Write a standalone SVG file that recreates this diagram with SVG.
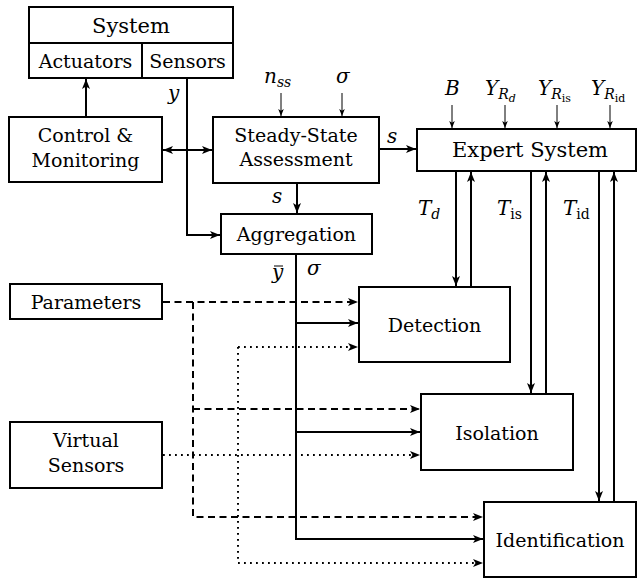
<svg xmlns="http://www.w3.org/2000/svg" width="639" height="578" viewBox="0 0 639 578" font-family="DejaVu Serif, serif">
<defs>
<marker id="ah" viewBox="0 0 10 8" refX="10" refY="4" markerWidth="10" markerHeight="8" markerUnits="userSpaceOnUse" orient="auto-start-reverse">
<path d="M0,0 L10,4 L0,8 L2.5,4 z" fill="#000"/>
</marker>
<marker id="ahs" viewBox="0 0 10 8" refX="10" refY="4" markerWidth="7" markerHeight="6" markerUnits="userSpaceOnUse" orient="auto">
<path d="M0,0 L10,4 L0,8 L2.5,4 z" fill="#000"/>
</marker>
</defs>
<style>
.box{fill:#fff;stroke:#000;stroke-width:2}
.t{font-size:19px;text-anchor:middle;fill:#000}
.tb{font-size:21px;text-anchor:middle;fill:#000}
.m{font-size:20px;font-style:italic;fill:#000}
.sub{font-size:14px}
.ss{font-size:11px}
.up{font-style:normal}
.ln{fill:none;stroke:#000;stroke-width:2}
.th{fill:none;stroke:#000;stroke-width:1}
.da{stroke-dasharray:7 4.5}
.do{stroke-dasharray:1.8 4.2}
</style>
<g id="connectors">
<path class="ln" d="M86,117 V79" marker-end="url(#ah)"/>
<path class="ln" d="M187,78 V235 H220" marker-end="url(#ah)"/>
<path class="ln" d="M163,150 H212" marker-start="url(#ah)" marker-end="url(#ah)"/>
<path class="th" d="M281,93 V116" marker-end="url(#ahs)"/>
<path class="th" d="M342,93 V116" marker-end="url(#ahs)"/>
<path class="ln" d="M379,149 H416" marker-end="url(#ah)"/>
<path class="ln" d="M297,183 V213" marker-end="url(#ah)"/>
<path class="th" d="M452,105 V128" marker-end="url(#ahs)"/>
<path class="th" d="M505,105 V128" marker-end="url(#ahs)"/>
<path class="th" d="M557,105 V128" marker-end="url(#ahs)"/>
<path class="th" d="M610,105 V128" marker-end="url(#ahs)"/>
<path class="ln" d="M456,171 V286" marker-end="url(#ah)"/>
<path class="ln" d="M471,287 V172" marker-end="url(#ah)"/>
<path class="ln" d="M531,171 V393" marker-end="url(#ah)"/>
<path class="ln" d="M546,394 V172" marker-end="url(#ah)"/>
<path class="ln" d="M599,171 V501" marker-end="url(#ah)"/>
<path class="ln" d="M614,502 V172" marker-end="url(#ah)"/>
<path class="ln" d="M296,254 V539 H483" marker-end="url(#ah)"/>
<path class="ln" d="M296,323 H358" marker-end="url(#ah)"/>
<path class="ln" d="M296,432 H420" marker-end="url(#ah)"/>
<path class="ln da" d="M163,302 H358" marker-end="url(#ah)"/>
<path class="ln da" d="M193,302 V517 H483" marker-end="url(#ah)"/>
<path class="ln da" d="M193,409 H420" marker-end="url(#ah)"/>
<path class="ln do" d="M163,455 H420" marker-end="url(#ah)"/>
<path class="ln do" d="M238,347 H358" marker-end="url(#ah)"/>
<path class="ln do" d="M238,347 V563 H483" marker-end="url(#ah)"/>
</g>
<g id="system">
<rect class="box" x="29" y="7" width="204" height="71"/>
<line class="ln" x1="29" y1="43" x2="233" y2="43"/>
<line class="ln" x1="142" y1="43" x2="142" y2="78"/>
<text class="tb" x="131" y="33">System</text>
<text class="t" x="85.5" y="68">Actuators</text>
<text class="t" x="187.5" y="68">Sensors</text>
</g>
<g id="control">
<rect class="box" x="9" y="117" width="153" height="65"/>
<text class="t" x="85.5" y="142">Control &amp;</text>
<text class="t" x="85.5" y="167">Monitoring</text>
</g>
<g id="steady">
<rect class="box" x="213" y="117" width="166" height="66"/>
<text class="t" x="296" y="142">Steady-State</text>
<text class="t" x="296" y="166">Assessment</text>
</g>
<g id="aggregation">
<rect class="box" x="221" y="214" width="151" height="40"/>
<text class="t" x="296.5" y="241">Aggregation</text>
</g>
<g id="expert">
<rect class="box" x="417" y="129" width="219" height="42"/>
<text class="tb" x="530" y="157">Expert System</text>
</g>
<g id="detection">
<rect class="box" x="359" y="287" width="151" height="75"/>
<text class="t" x="434.5" y="332">Detection</text>
</g>
<g id="isolation">
<rect class="box" x="421" y="394" width="152" height="76"/>
<text class="t" x="497" y="440">Isolation</text>
</g>
<g id="identification">
<rect class="box" x="484" y="502" width="152" height="75"/>
<text class="t" x="560" y="547">Identification</text>
</g>
<g id="parameters">
<rect class="box" x="10" y="284" width="152" height="35"/>
<text class="t" x="86" y="309">Parameters</text>
</g>
<g id="virtual">
<rect class="box" x="10" y="422" width="152" height="66"/>
<text class="t" x="86" y="447">Virtual</text>
<text class="t" x="86" y="472">Sensors</text>
</g>
<g id="labels">
<text class="m" x="168" y="100">y</text>
<text class="m" x="264" y="83">n<tspan class="sub" dy="4">ss</tspan></text>
<text class="m" x="336" y="83">σ</text>
<text class="m" x="387" y="143">s</text>
<text class="m" x="272" y="203">s</text>
<text class="m" x="445" y="95">B</text>
<text class="m" x="485" y="95">Y<tspan class="sub" dy="4">R</tspan><tspan class="ss" dy="3">d</tspan></text>
<text class="m" x="538" y="95">Y<tspan class="sub" dy="4">R</tspan><tspan class="ss up" dy="3">is</tspan></text>
<text class="m" x="591" y="95">Y<tspan class="sub" dy="4">R</tspan><tspan class="ss up" dy="3">id</tspan></text>
<text class="m" x="418" y="215">T<tspan class="sub" dy="4">d</tspan></text>
<text class="m" x="497" y="215">T<tspan class="sub up" dy="4">is</tspan></text>
<text class="m" x="563" y="215">T<tspan class="sub up" dy="4">id</tspan></text>
<text class="m" x="272" y="279">y</text>
<line x1="274" y1="266" x2="283" y2="266" stroke="#000" stroke-width="1"/>
<text class="m" x="307" y="275">σ</text>
</g>
</svg>
